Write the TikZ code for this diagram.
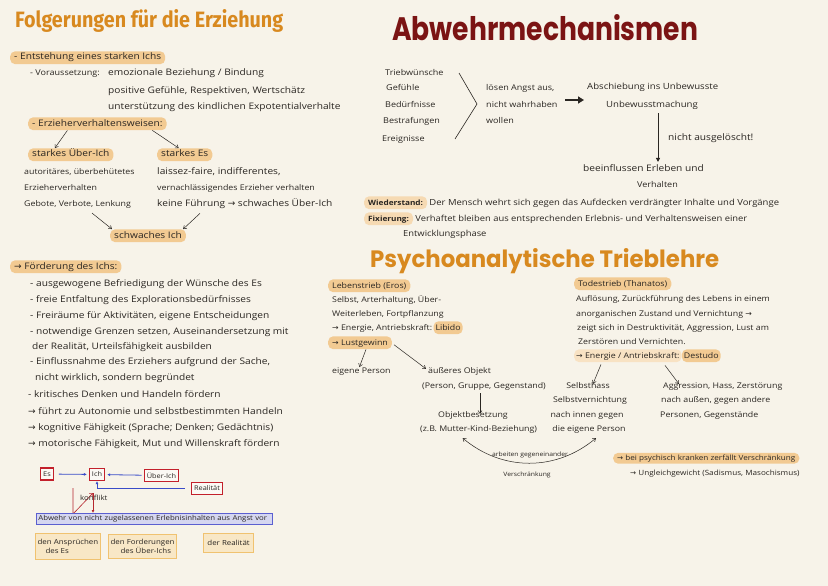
\documentclass[tikz,border=0pt]{standalone}
\usepackage{graphicx}
\usepackage{fontspec}
\setmainfont[FakeStretch=1.13]{Open Sans}
\newfontfamily\headfont{Fira Sans}
\newfontfamily\brushfont{Poppins}
\newfontfamily\symfont{DejaVu Sans}
\usetikzlibrary{arrows.meta,positioning}
\definecolor{paper}{HTML}{F7F3E9}
\definecolor{ink}{HTML}{2A2622}
\definecolor{ttlorange}{HTML}{D8891F}
\definecolor{ttlred}{HTML}{7B1414}
\definecolor{hlc}{HTML}{F2CA92}
\definecolor{boxred}{HTML}{C3202B}
\definecolor{inkblue}{HTML}{3A4CC8}
\definecolor{boxblue}{HTML}{5B5FD0}
\definecolor{fillblue}{HTML}{D5D6F0}
\definecolor{boxorange}{HTML}{F0C270}
\definecolor{fillorange}{HTML}{F8E7C6}
\definecolor{konfred}{HTML}{B5262E}
\newcommand\fsA{\fontsize{9}{11}\selectfont}
\newcommand\fsB{\fontsize{8}{10}\selectfont}
\newcommand\fsBB{\fontsize{9}{11}\selectfont}
\newcommand\fsC{\fontsize{7.8}{9}\selectfont}
\newcommand\fsD{\fontsize{6}{7.5}\selectfont}
\newcommand\fsE{\fontsize{7}{8.5}\selectfont}
\newcommand\arr{{\symfont →}}
\begin{document}
\begin{tikzpicture}[x=1pt,y=-1pt,
  txt/.style={anchor=base west,inner sep=0pt,text=ink,font=\fsA},
  hl/.style={txt,fill=hlc,rounded corners=5pt,inner xsep=4pt,inner ysep=2.2pt,text height=6.5pt,text depth=2pt},
  arw/.style={draw=ink,line width=.5pt,-{Straight Barb[length=3pt,width=4pt]}},
  redbox/.style={draw=boxred,line width=1.3pt,fill=paper!50!white,inner xsep=2.5pt,inner ysep=1.5pt,minimum height=12pt,font=\fontsize{6.5}{7}\selectfont,text=ink},
  bluearr/.style={draw=inkblue,line width=.8pt,-{Latex[length=3pt,width=3pt]}},
  konf/.style={draw=konfred,line width=.6pt},
  notebox/.style={draw=boxorange,line width=1.2pt,fill=fillorange,anchor=north west,align=left,font=\fsE,text=ink,inner sep=2pt}]

  \path[fill=paper] (0,0) rectangle (828,586);

  % Folgerungen fuer die Erziehung
  \node[txt,text=ttlorange] (ttlerz) at (15,28) {\resizebox{268pt}{18pt}{\headfont\bfseries Folgerungen für die Erziehung}};
  \node[hl] (starkich) at (10,60) {- Entstehung eines starken Ichs};
  \node[txt,font=\fsB] (vor) at (30,76) {- Voraussetzung:};
  \node[txt] (vor1) at (108,76) {emozionale Beziehung / Bindung};
  \node[txt] (vor2) at (108,93) {positive Gefühle, Respektiven, Wertschätz};
  \node[txt] (vor3) at (108,110) {unterstützung des kindlichen Expotentialverhalte};
  \node[hl] (erz) at (28,126) {- Erzieherverhaltensweisen:};
  \node[hl] (sui) at (28,157) {starkes Über-Ich};
  \node[hl] (ses) at (157,157) {starkes Es};
  \draw[arw] ([xshift=-30pt]erz.south) -- ([xshift=-16pt]sui.north);
  \draw[arw] ([xshift=55pt]erz.south) -- ([xshift=-6pt]ses.north);
  \node[txt,font=\fontsize{7.8}{9}\selectfont] (aut) at (24,174) {autoritäres, überbehütetes};
  \node[txt,font=\fontsize{7.8}{9}\selectfont] (ezv) at (24,190) {Erzieherverhalten};
  \node[txt,font=\fontsize{7.8}{9}\selectfont] (geb) at (24,206) {Gebote, Verbote, Lenkung};
  \node[txt] (lai) at (157,174) {laissez-faire, indifferentes,};
  \node[txt,font=\fontsize{7.8}{9}\selectfont] (ver) at (157,190) {vernachlässigendes Erzieher verhalten};
  \node[txt] (kf) at (157,206) {keine Führung \arr{} schwaches Über-Ich};
  \node[hl] (swi) at (110,238) {schwaches Ich};
  \draw[arw] (geb.south west) ++(68,5) -- ([xshift=2pt]swi.north west);
  \draw[arw] (kf.south west) ++(43,5) -- ([xshift=-3pt]swi.north east);

  \node[hl] (foe) at (10,269) {\arr{} Förderung des Ichs:};
  \node[txt] (f1) at (30,286) {- ausgewogene Befriedigung der Wünsche des Es};
  \node[txt] (f2) at (30,302) {- freie Entfaltung des Explorationsbedürfnisses};
  \node[txt] (f3) at (30,318) {- Freiräume für Aktivitäten, eigene Entscheidungen};
  \node[txt] (f4) at (30,334) {- notwendige Grenzen setzen, Auseinandersetzung mit};
  \node[txt] (f5) at (32,349) {der Realität, Urteilsfähigkeit ausbilden};
  \node[txt] (f6) at (30,364) {- Einflussnahme des Erziehers aufgrund der Sache,};
  \node[txt] (f7) at (35,380) {nicht wirklich, sondern begründet};
  \node[txt] (f8) at (28,397) {- kritisches Denken und Handeln fördern};
  \node[txt] (f9) at (28,414) {\arr{} führt zu Autonomie und selbstbestimmten Handeln};
  \node[txt] (f10) at (28,430) {\arr{} kognitive Fähigkeit (Sprache; Denken; Gedächtnis)};
  \node[txt] (f11) at (28,446) {\arr{} motorische Fähigkeit, Mut und Willenskraft fördern};

  % Es - Ich - Ueber-Ich
  \node[redbox] (es) at (47,474) {Es};
  \node[redbox] (ich) at (97,474.5) {Ich};
  \node[redbox] (uich) at (161.5,475.5) {Über-Ich};
  \node[redbox] (real) at (207,488.5) {Realität};
  \draw[bluearr,shorten <=5pt,shorten >=2pt] (es) -- (ich);
  \draw[bluearr,shorten <=2pt,shorten >=2pt] (uich) -- (ich);
  \draw[bluearr,shorten <=6pt] (real.west) -| (ich.south);
  \coordinate (kfa) at (73,488);
  \coordinate (kfb) at (93,493);
  \draw[konf,-{Straight Barb[length=2.5pt]}] (kfa) -- ++(0,26) -- (kfb);
  \node[anchor=north west,inner sep=1pt,font=\fsE,text=ink] (konflikt) at (79,494) {konflikt};
  \node[draw=boxblue,line width=.9pt,fill=fillblue,anchor=north west,text width=232pt,inner xsep=2pt,inner ysep=2pt,align=left,font=\fontsize{6.9}{8}\selectfont,text=ink] (abw) at (36,513) {Abwehr von nicht zugelassenen Erlebnisinhalten aus Angst vor};
  \draw[konf,-{Latex[length=3pt,width=3pt]}] (kfb) -- (kfb |- abw.north);
  \node[notebox,minimum width=55pt,minimum height=26pt] (ansp) at (35,533) {den Ansprüchen\\\hspace*{8pt}des Es};
  \node[notebox,minimum width=66pt,minimum height=24pt] (ford) at (108,534) {den Forderungen\\\hspace*{10pt}des Über-Ichs};
  \node[notebox,minimum width=50pt,minimum height=19pt] (drea) at (203,533) {der Realität};

  % Abwehrmechanismen
  \node[txt,text=ttlred] (ttlabw) at (392,41) {\resizebox{306pt}{26pt}{\brushfont\bfseries Abwehrmechanismen}};
  \node[txt,font=\fsB] (tw) at (385,76) {Triebwünsche};
  \node[txt,font=\fsB] (gf) at (386,91) {Gefühle};
  \node[txt,font=\fsB] (bd) at (385,107) {Bedürfnisse};
  \node[txt,font=\fsB] (bs) at (383,124) {Bestrafungen};
  \node[txt,font=\fsB] (er) at (382,141) {Ereignisse};
  \draw[ink,line width=.6pt] (tw.base west) ++(74,-3) -- ++(18,31) -- ++(-22,35);
  \node[txt,font=\fsB] (loe1) at (486,91) {lösen Angst aus,};
  \node[txt,font=\fsB] (loe2) at (486,107) {nicht wahrhaben};
  \node[txt,font=\fsB] (loe3) at (486,123) {wollen};
  \node[txt,font=\fontsize{8.5}{10}\selectfont] (absch) at (587,90) {Abschiebung ins Unbewusste};
  \node[txt,font=\fontsize{8.5}{10}\selectfont] (unbm) at (606,107) {Unbewusstmachung};
  \coordinate (fatA) at (565,100);
  \draw[ink,line width=2.2pt,-{Triangle[length=6pt,width=7pt]},shorten >=3pt] (fatA) -- (fatA -| absch.west);
  \node[txt,font=\fsBB] (nag) at (668,140) {nicht ausgelöscht!};
  \node[txt,font=\fsBB] (bee) at (583,171) {beeinflussen Erleben und};
  \node[txt,font=\fsB] (verh) at (637,187) {Verhalten};
  \draw[ink,line width=.6pt,-{Triangle[length=4pt,width=4pt]}] ([yshift=-4pt]unbm.south -| nag.west) ++(-10,0) -- ([xshift=-10pt,yshift=2pt]nag.west |- bee.north);

  \node[hl,font=\fontsize{7.3}{9}\selectfont\bfseries,fill=hlc!70] (wid) at (364,205) {Wiederstand:};
  \node[txt,font=\fontsize{8.4}{10}\selectfont] (wid1) at ([xshift=2pt]wid.base east) {Der Mensch wehrt sich gegen das Aufdecken verdrängter Inhalte und Vorgänge};
  \node[hl,font=\fontsize{7.3}{9}\selectfont\bfseries,fill=hlc!70] (fix) at (364,221) {Fixierung:};
  \node[txt,font=\fontsize{8.3}{10}\selectfont] (fix1) at ([xshift=2pt]fix.base east) {Verhaftet bleiben aus entsprechenden Erlebnis- und Verhaltensweisen einer};
  \node[txt,font=\fontsize{8.3}{10}\selectfont] (fix2) at (403,236) {Entwicklungsphase};

  % Psychoanalytische Trieblehre
  \node[txt,text=ttlorange] (ttltrieb) at (370,267) {\resizebox{349pt}{19pt}{\brushfont\bfseries Psychoanalytische Trieblehre}};
  \node[hl,font=\fsC] (eros) at (328,288) {Lebenstrieb (Eros)};
  \node[txt,font=\fsC] (e1) at (332,302) {Selbst, Arterhaltung, Über-};
  \node[txt,font=\fsC] (e2) at (332,316) {Weiterleben, Fortpflanzung};
  \node[txt,font=\fsC] (e3) at (332,330) {\arr{} Energie, Antriebskraft:};
  \node[hl,font=\fsC,anchor=base west,inner xsep=2pt] (libido) at ([xshift=1pt]e3.base east) {Libido};
  \node[hl,font=\fsC] (lust) at (328,345) {\arr{} Lustgewinn};
  \node[txt,font=\fsC] (eig) at (332,373) {eigene Person};
  \node[txt,font=\fsC] (aeuss) at (428,373) {äußeres Objekt};
  \node[txt,font=\fsC] (pgg) at (422,388) {(Person, Gruppe, Gegenstand)};
  \node[txt,font=\fsC] (objb) at (438,417) {Objektbesetzung};
  \node[txt,font=\fsC] (zb) at (420,431) {(z.B. Mutter-Kind-Beziehung)};
  \draw[arw] ([xshift=6pt]lust.south) -- ([xshift=-2pt]eig.north);
  \draw[arw] (lust.east) ++(2,2) -- ([xshift=-2pt,yshift=-2pt]aeuss.north west);
  \draw[arw] ([yshift=-3pt]pgg.south) ++(-4,0) -- ([xshift=-4pt,yshift=-3pt]pgg.south |- objb.north);

  \node[hl,font=\fsC] (thana) at (574,286) {Todestrieb (Thanatos)};
  \node[txt,font=\fsC] (t1) at (576,301) {Auflösung, Zurückführung des Lebens in einem};
  \node[txt,font=\fsC] (t2) at (576,316) {anorganischen Zustand und Vernichtung \arr};
  \node[txt,font=\fsC] (t3) at (577,330) {zeigt sich in Destruktivität, Aggression, Lust am};
  \node[txt,font=\fsC] (t4) at (578,344) {Zerstören und Vernichten.};
  \node[hl,font=\fsC,fill=hlc!55,inner xsep=2pt] (t5) at (574,358) {\arr{} Energie / Antriebskraft:};
  \node[hl,font=\fsC,anchor=base west,inner xsep=2pt] (destr) at (t5.base east) {Destudo};
  \node[txt,font=\fsC,anchor=base] (sh) at (588,388) {Selbsthass};
  \node[txt,font=\fsC,anchor=base] (sv) at (590,402) {Selbstvernichtung};
  \node[txt,font=\fsC,anchor=base] (ni) at (587,417) {nach innen gegen};
  \node[txt,font=\fsC,anchor=base] (dep) at (589,431) {die eigene Person};
  \node[txt,font=\fsC] (ag1) at (663,388) {Aggression, Hass, Zerstörung};
  \node[txt,font=\fsC] (ag2) at (661,402) {nach außen, gegen andere};
  \node[txt,font=\fsC] (ag3) at (660,417) {Personen, Gegenstände};
  \draw[arw] (t5.south west) ++(27,2) -- ([xshift=5pt,yshift=-2pt]sh.north);
  \draw[arw] (t5.south west) ++(91,3) -- ([xshift=16pt,yshift=-2pt]ag1.north west);
  \draw[arw,{Straight Barb[length=3pt,width=4pt]}-{Straight Barb[length=3pt,width=4pt]}] ([xshift=-16pt,yshift=-5pt]zb.south) to[bend right=40] ([xshift=7pt,yshift=-5pt]dep.south);
  \node[txt,font=\fsD,anchor=base] (gegen) at (530,456) {arbeiten gegeneinander};
  \node[txt,font=\fsD,anchor=base] (versch) at (527,476) {Verschränkung};
  \node[hl,font=\fontsize{7.2}{8}\selectfont,text height=5pt,text depth=1.5pt] (psy) at (613,460) {\arr{} bei psychisch kranken zerfällt Verschränkung};
  \node[txt,font=\fontsize{7.2}{8}\selectfont] (ungl) at (630,475) {\arr{} Ungleichgewicht (Sadismus, Masochismus)};
\end{tikzpicture}
\end{document}
